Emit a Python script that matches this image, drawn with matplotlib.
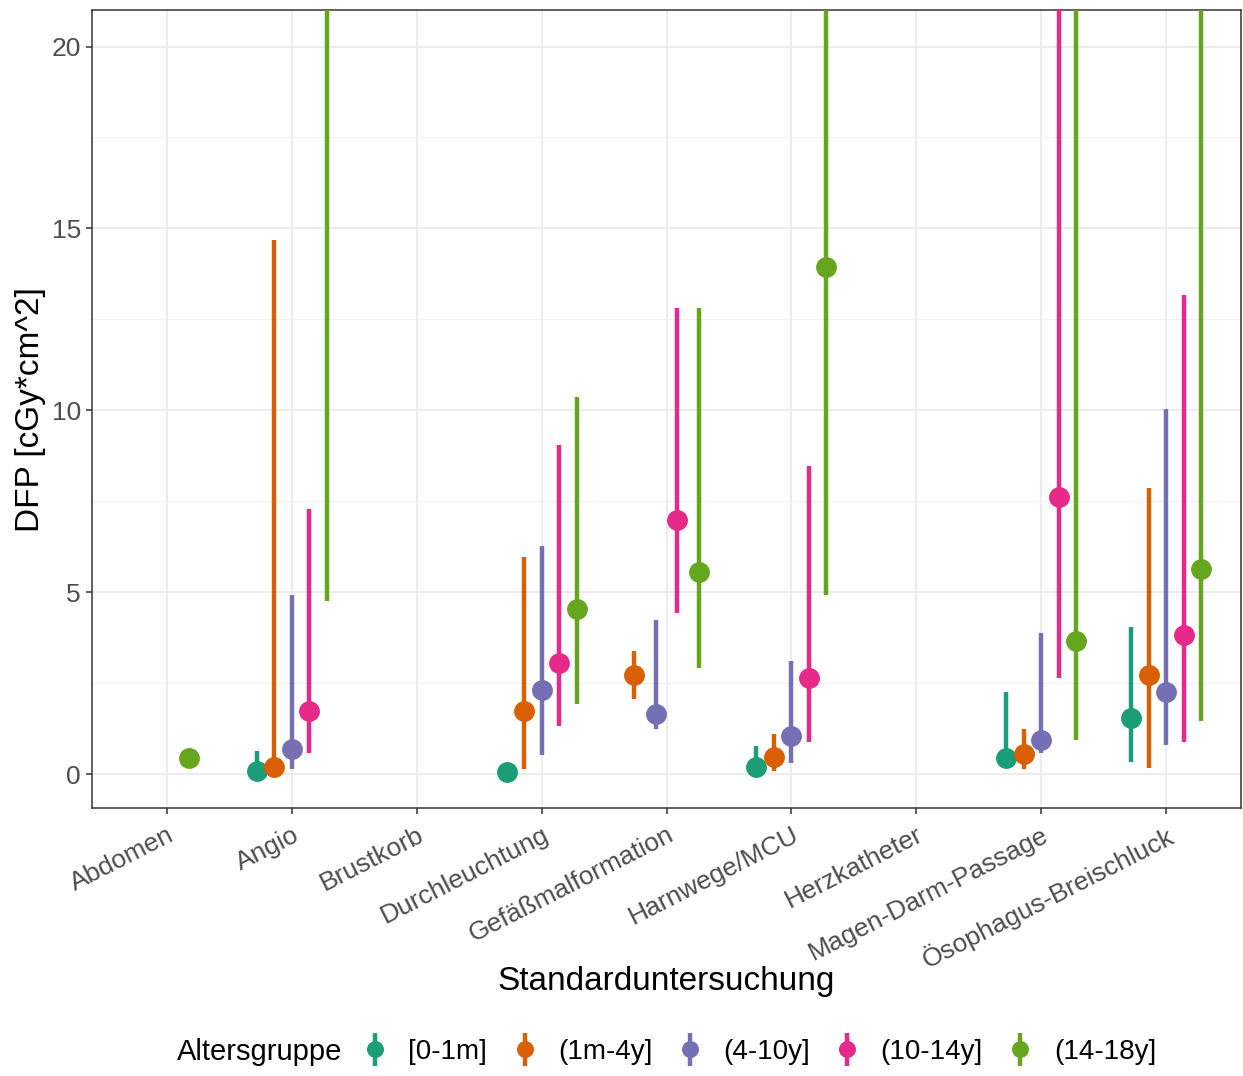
import matplotlib
matplotlib.use("Agg")
import matplotlib.pyplot as plt
import numpy as np
from matplotlib.legend_handler import HandlerErrorbar

plt.rcParams["font.family"] = ["Liberation Sans", "DejaVu Sans"]

# categories (x axis) and age groups
categories = ["Abdomen", "Angio", "Brustkorb", "Durchleuchtung", "Gefäßmalformation",
              "Harnwege/MCU", "Herzkatheter", "Magen-Darm-Passage", "Ösophagus-Breischluck"]
groups = ["[0-1m]", "(1m-4y]", "(4-10y]", "(10-14y]", "(14-18y]"]
colors = ["#1B9E77", "#D95F02", "#7570B3", "#E7298A", "#66A61E"]

NA = np.nan
# None = group has no row in this category, NA = row present but not drawn
mean_0_1m  = [NA,   0.08, None, 0.06, None, 0.19, None, 0.44, 1.54]
mean_1m_4y = [None, 0.19, None, 1.73, 2.72, 0.47, None, 0.55, 2.72]
mean_4_10  = [None, 0.69, None, 2.31, 1.65, 1.04, None, 0.93, 2.25]
mean_10_14 = [None, 1.73, None, 3.05, 6.98, 2.64, None, 7.61, 3.82]
mean_14_18 = [0.44, 24.0, None, 4.53, 5.55, 13.93, None, 3.65, 5.63]

low_0_1m  = [NA,   0.0,  None, 0.06, None, 0.05, None, 0.20, 0.33]
low_1m_4y = [None, 0.0,  None, 0.14, 2.06, 0.08, None, 0.14, 0.16]
low_4_10  = [None, 0.14, None, 0.52, 1.24, 0.30, None, 0.58, 0.80]
low_10_14 = [None, 0.58, None, 1.32, 4.42, 0.88, None, 2.64, 0.88]
low_14_18 = [0.44, 4.75, None, 1.92, 2.91, 4.92, None, 0.93, 1.46]

high_0_1m  = [NA,   0.63,  None, 0.06,  None,  0.77,  None, 2.25,  4.04]
high_1m_4y = [None, 14.67, None, 5.96,  3.38,  1.10,  None, 1.24,  7.88]
high_4_10  = [None, 4.92,  None, 6.26,  4.23,  3.10,  None, 3.87,  10.03]
high_10_14 = [None, 7.28,  None, 9.04,  12.80, 8.46,  None, 30.0,  13.16]
high_14_18 = [0.44, 45.0,  None, 10.38, 12.80, 30.0,  None, 30.0,  30.0]

means = [mean_0_1m, mean_1m_4y, mean_4_10, mean_10_14, mean_14_18]
lows = [low_0_1m, low_1m_4y, low_4_10, low_10_14, low_14_18]
highs = [high_0_1m, high_1m_4y, high_4_10, high_10_14, high_14_18]


def dodge_positions(width=0.7):
    # ggplot-like position_dodge: split width among groups present at each x
    pos = np.full((len(groups), len(categories)), np.nan)
    for j in range(len(categories)):
        present = [g for g in range(len(groups)) if means[g][j] is not None]
        n = len(present)
        for k, g in enumerate(present):
            pos[g, j] = j + 1 + (k - (n - 1) / 2) * width / n
    return pos


def main():
    fig = plt.figure(figsize=(12.43, 10.76), dpi=100)
    ax = fig.add_axes([0.074, 0.249, 0.9245, 0.7416])

    pos = dodge_positions()
    for g, (name, col) in enumerate(zip(groups, colors)):
        y = np.array([np.nan if v is None else v for v in means[g]], dtype=float)
        lo = np.array([np.nan if v is None else v for v in lows[g]], dtype=float)
        hi = np.array([np.nan if v is None else v for v in highs[g]], dtype=float)
        ok = ~np.isnan(y)
        ax.errorbar(pos[g][ok], y[ok], yerr=[y[ok] - lo[ok], hi[ok] - y[ok]],
                    fmt="o", color=col, ecolor=col, elinewidth=3.2, capsize=0,
                    markersize=14, label=name, zorder=3)

    ax.set_xlim(0.4, len(categories) + 0.6)
    ax.set_ylim(-0.93, 21.0)
    ax.set_xticks(np.arange(1, len(categories) + 1))
    ax.set_xticklabels(categories, rotation=27, ha="right", va="top",
                       rotation_mode="anchor")
    ax.set_yticks([0, 5, 10, 15, 20])
    ax.set_yticks([2.5, 7.5, 12.5, 17.5], minor=True)
    ax.tick_params(axis="both", which="major", labelsize=19, labelcolor="#4D4D4D",
                   color="#333333", length=4.5, width=1.1)
    ax.tick_params(axis="y", which="minor", length=0)
    ax.tick_params(axis="x", pad=6)
    ax.grid(which="major", color="#EBEBEB", linewidth=1.3, zorder=0)
    ax.grid(which="minor", axis="y", color="#F2F2F2", linewidth=0.8, zorder=0)
    ax.set_axisbelow(True)
    for s in ax.spines.values():
        s.set_color("#333333")
        s.set_linewidth(1.1)

    ax.set_ylabel("DFP [cGy*cm^2]", fontsize=24, labelpad=4)
    ax.set_xlabel("Standarduntersuchung", fontsize=24, labelpad=-5)

    fig.text(177 / 1243, 1 - 1052 / 1076, "Altersgruppe", fontsize=21,
             ha="left", va="center")
    handles, labels = ax.get_legend_handles_labels()
    fig.legend(handles, labels, ncol=5, loc="center left",
               bbox_to_anchor=(361 / 1243, 1 - 1052 / 1076), frameon=False,
               fontsize=20, handlelength=1.0, handletextpad=0.7,
               columnspacing=0.85, borderpad=0, borderaxespad=0,
               markerscale=0.8,
               handler_map={type(handles[0]): HandlerErrorbar(yerr_size=0.6)})

    fig.savefig("out.png", dpi=100)
    plt.close(fig)


if __name__ == "__main__":
    main()
